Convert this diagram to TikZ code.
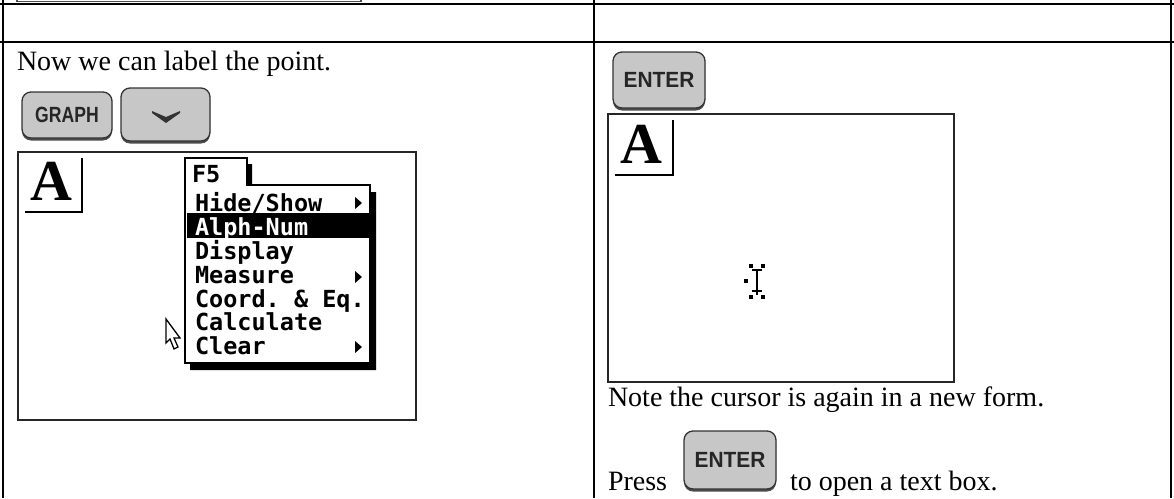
\documentclass[tikz,border=0pt]{standalone}
\usepackage{fontspec}
\usepackage{graphicx}
\setmainfont{Liberation Serif}
\newfontfamily\keyfont{Liberation Sans}
\newfontfamily\calcfont{DejaVu Sans Mono}
\newcommand\keylabel[2][0.85]{\scalebox{#1}[1]{\keyfont\bfseries\fontsize{22}{22}\selectfont #2}}
\begin{document}
\begin{tikzpicture}
  [x=1pt,y=-1pt,every node/.style={inner sep=0pt,outer sep=0pt}]
  \tikzstyle{grid} = [line width=2.2pt]
  \tikzstyle{screen} = [draw=black!85,line width=1.4pt,fill=white]
  \tikzstyle{key} = [draw=black!80,line width=1.3pt,fill=black!22,rounded corners=9pt,text=black!85,
    preaction={fill=black!70,rounded corners=9pt,transform canvas={yshift=-2.5pt}}]
  \tikzstyle{body} = [font=\fontsize{28}{33}\selectfont,anchor=base west]
  \tikzstyle{menuitem} = [font=\calcfont\bfseries\fontsize{23.5}{23.5}\selectfont\frenchspacing,anchor=base west]
  \tikzstyle{bigA} = [font=\bfseries\fontsize{58}{58}\selectfont,anchor=base west]
  \useasboundingbox (0,0) rectangle (1174,498);

  % table rules
  \draw[draw=black!70,line width=1.2pt] (17,-3) -- (17,1.5) -- (361,1.5) -- (361,-3);
  \draw[grid] (0,4) -- (1174,4);
  \draw[grid] (0,42) -- (1174,42);
  \foreach \x in {3,594,1171}
    \draw[grid] (\x,0) -- (\x,498);

  % left cell
  \node[body] (intro) at (17,70) {Now we can label the point.};
  \node[key,minimum width=90pt,minimum height=46pt] (graph) at (67,115) {\keylabel[0.8]{GRAPH}};
  \node[key,minimum width=89pt,minimum height=53pt] (down) at (165.5,114.5) {};
  \fill[black!80] (152,111) -- (166,117) -- (180,111) -- (180,113) -- (166,123) -- (152,113) -- cycle;

  \draw[screen] (18,152) rectangle (416,420);
  \node[bigA] (aleft) at (30,200) {A};
  \draw[line width=1.6pt] (82,158) -- (82,212) -- (25,212);

  % F5 menu
  \fill (190,164) -- (252,164) -- (252,192) -- (376,192) -- (376,370) -- (190,370) -- cycle;
  \draw[line width=1.5pt,fill=white] (185,363) -- (185,158) -- (247,158) -- (247,185)
    -- (370,185) -- (370,363) -- cycle;
  \fill (187,213) rectangle (369,238);
  \node[menuitem] (f5) at (192,182) {F5};
  \node[menuitem,text=white] (alphnum) at (195,235) {Alph-Num};
  \foreach \y/\t in {211/{Hide/Show},259/Display,283/Measure,307/{Coord. \& Eq.},330/Calculate,354/Clear}
    \node[menuitem] (item\y) at (195,\y) {\t};
  \foreach \y in {203,277,347}
    \fill (355,\y-6) -- (362,\y) -- (355,\y+6) -- cycle;
  \draw[line width=1.3pt,fill=white] (166,319) -- (166,343) -- (170,339) -- (174,349)
    -- (178,347) -- (174,338) -- (180,338) -- cycle;

  % right cell
  \node[key,minimum width=92pt,minimum height=56pt] (enter) at (659,80) {\keylabel[0.95]{ENTER}};
  \draw[screen] (608,114) rectangle (954,382);
  \node[bigA] (aright) at (620,163) {A};
  \draw[line width=1.6pt] (673,120) -- (673,175) -- (615,175);

  % cursor
  \draw[line width=2pt] (757,270) -- (757,295);
  \draw[line width=1.5pt] (752,270) -- (762,270);
  \draw[line width=1.5pt] (752,291) -- (762,291);
  \foreach \p in {(751,266),(763,266),(751,297),(763,297),(746,281)}
    \fill \p ++(-1.6,-1.6) rectangle ++(3.2,3.2);

  \node[body] (note) at (608,406) {Note the cursor is again in a new form.};
  \node[body] (press) at (608,490) {Press};
  \node[key,minimum width=92pt,minimum height=58pt] (enterb) at (730,460) {\keylabel[0.95]{ENTER}};
  \node[body] (openbox) at (790,490) {to open a text box.};
\end{tikzpicture}
\end{document}
